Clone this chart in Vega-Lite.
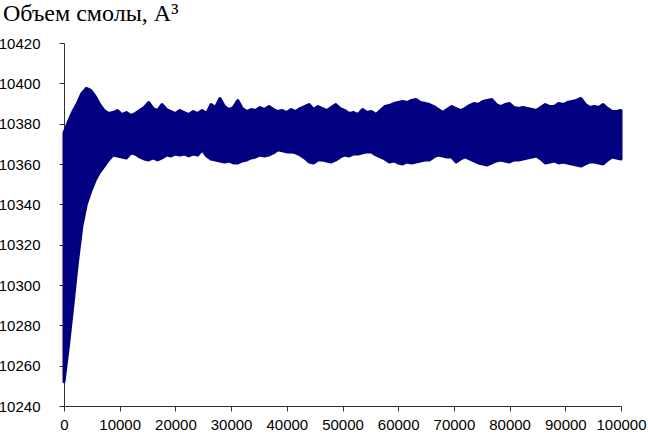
{
  "$schema": "https://vega.github.io/schema/vega-lite/v6.json",
  "autosize": "none",
  "width": 557,
  "height": 363,
  "padding": {"left": 64, "top": 43, "right": 27, "bottom": 30},
  "background": "white",
  "title": {
    "text": "Объем смолы, A³",
    "anchor": "start",
    "frame": "group",
    "font": "Liberation Serif",
    "fontSize": 24,
    "fontWeight": "normal",
    "color": "black",
    "baseline": "alphabetic",
    "offset": 14,
    "dx": -61,
    "dy": 23
  },
  "config": {
    "view": {"stroke": null},
    "axis": {
      "grid": false,
      "domainColor": "#333333",
      "tickColor": "#333333",
      "tickSize": 5,
      "labelColor": "black",
      "labelFont": "Liberation Sans",
      "title": null
    }
  },
  "data": {"values": [
    {"x":0,"lo":10252,"hi":10375.5},{"x":800,"lo":10270,"hi":10381},{"x":1600,"lo":10290,"hi":10386},{"x":2400,"lo":10311,"hi":10390},{"x":3200,"lo":10329,"hi":10395},
    {"x":4000,"lo":10340,"hi":10397.5},{"x":4800,"lo":10346.5,"hi":10396.5},{"x":5600,"lo":10352,"hi":10393.5},{"x":6400,"lo":10356,"hi":10389.5},{"x":7200,"lo":10359,"hi":10386.5},
    {"x":8000,"lo":10362,"hi":10385},{"x":8800,"lo":10364.5,"hi":10385.5},{"x":9600,"lo":10364,"hi":10386.5},{"x":10400,"lo":10363.5,"hi":10384.5},{"x":11200,"lo":10363,"hi":10385.5},
    {"x":12000,"lo":10365.5,"hi":10384},{"x":12800,"lo":10365,"hi":10385},{"x":13600,"lo":10363.5,"hi":10386.5},{"x":14400,"lo":10362.5,"hi":10388},{"x":15200,"lo":10362,"hi":10390.5},
    {"x":16000,"lo":10363,"hi":10387.5},{"x":16800,"lo":10362,"hi":10386.5},{"x":17600,"lo":10363,"hi":10389.5},{"x":18400,"lo":10364.5,"hi":10387},{"x":19200,"lo":10364,"hi":10386},
    {"x":20000,"lo":10365,"hi":10385},{"x":20800,"lo":10364.5,"hi":10386.5},{"x":21600,"lo":10365,"hi":10385.5},{"x":22400,"lo":10364,"hi":10384.5},{"x":23200,"lo":10365,"hi":10386},
    {"x":24000,"lo":10364.5,"hi":10385},{"x":24800,"lo":10367,"hi":10386.5},{"x":25600,"lo":10364,"hi":10385},{"x":26400,"lo":10362.5,"hi":10389.5},{"x":27200,"lo":10362,"hi":10388},
    {"x":28000,"lo":10361.5,"hi":10392.5},{"x":28800,"lo":10361,"hi":10388.5},{"x":29600,"lo":10361.5,"hi":10387},{"x":30400,"lo":10360.5,"hi":10388},{"x":31200,"lo":10360.5,"hi":10391.5},
    {"x":32000,"lo":10361.5,"hi":10387.5},{"x":32800,"lo":10362,"hi":10386},{"x":33600,"lo":10363,"hi":10387},{"x":34400,"lo":10363.5,"hi":10386.5},{"x":35200,"lo":10364.5,"hi":10388},
    {"x":36000,"lo":10364,"hi":10387},{"x":36800,"lo":10364.5,"hi":10388.5},{"x":37600,"lo":10365.5,"hi":10387},{"x":38400,"lo":10367,"hi":10386},{"x":39200,"lo":10366.5,"hi":10386.5},
    {"x":40000,"lo":10366,"hi":10385.5},{"x":40800,"lo":10366,"hi":10387},{"x":41600,"lo":10365.5,"hi":10386},{"x":42400,"lo":10364.5,"hi":10387.5},{"x":43200,"lo":10363,"hi":10388.5},
    {"x":44000,"lo":10361,"hi":10389.5},{"x":44800,"lo":10360.5,"hi":10387},{"x":45600,"lo":10362,"hi":10388.5},{"x":46400,"lo":10362,"hi":10387.5},{"x":47200,"lo":10361.5,"hi":10386.5},
    {"x":48000,"lo":10361,"hi":10388},{"x":48800,"lo":10362,"hi":10389.5},{"x":49600,"lo":10363.5,"hi":10387.5},{"x":50400,"lo":10364.5,"hi":10386.5},{"x":51200,"lo":10364,"hi":10385},
    {"x":52000,"lo":10365,"hi":10385.5},{"x":52800,"lo":10365,"hi":10384.5},{"x":53600,"lo":10365.5,"hi":10387},{"x":54400,"lo":10366,"hi":10385.5},{"x":55200,"lo":10366,"hi":10386},
    {"x":56000,"lo":10364.5,"hi":10384.5},{"x":56800,"lo":10363.5,"hi":10386.5},{"x":57600,"lo":10362.5,"hi":10388.5},{"x":58400,"lo":10361,"hi":10389},{"x":59200,"lo":10361.5,"hi":10390},
    {"x":60000,"lo":10360.5,"hi":10390.5},{"x":60800,"lo":10360,"hi":10391},{"x":61600,"lo":10361,"hi":10390.5},{"x":62400,"lo":10360.5,"hi":10391.5},{"x":63200,"lo":10361,"hi":10392},
    {"x":64000,"lo":10361.5,"hi":10390.5},{"x":64800,"lo":10362,"hi":10390},{"x":65600,"lo":10362,"hi":10389.5},{"x":66400,"lo":10363.5,"hi":10388.5},{"x":67200,"lo":10364.5,"hi":10387},
    {"x":68000,"lo":10364,"hi":10385.5},{"x":68800,"lo":10363.5,"hi":10387},{"x":69600,"lo":10363.5,"hi":10388.5},{"x":70400,"lo":10361,"hi":10387.5},{"x":71200,"lo":10362.5,"hi":10386.5},
    {"x":72000,"lo":10363.5,"hi":10387.5},{"x":72800,"lo":10362.5,"hi":10389},{"x":73600,"lo":10361.5,"hi":10390},{"x":74400,"lo":10360.5,"hi":10389.5},{"x":75200,"lo":10360,"hi":10391},
    {"x":76000,"lo":10359.5,"hi":10391.5},{"x":76800,"lo":10360.5,"hi":10392},{"x":77600,"lo":10361.5,"hi":10389.5},{"x":78400,"lo":10362,"hi":10388.5},{"x":79200,"lo":10361.5,"hi":10389.5},
    {"x":80000,"lo":10361,"hi":10390},{"x":80800,"lo":10362,"hi":10388},{"x":81600,"lo":10362,"hi":10387.5},{"x":82400,"lo":10362.5,"hi":10388},{"x":83200,"lo":10363,"hi":10387.5},
    {"x":84000,"lo":10363.5,"hi":10387},{"x":84800,"lo":10364,"hi":10386.5},{"x":85600,"lo":10362.5,"hi":10388},{"x":86400,"lo":10360.5,"hi":10389.5},{"x":87200,"lo":10361,"hi":10388.5},
    {"x":88000,"lo":10361.5,"hi":10388.5},{"x":88800,"lo":10360.5,"hi":10390},{"x":89600,"lo":10361,"hi":10389.5},{"x":90400,"lo":10360.5,"hi":10390.5},{"x":91200,"lo":10360,"hi":10391},
    {"x":92000,"lo":10359.5,"hi":10391.5},{"x":92800,"lo":10359,"hi":10392.5},{"x":93600,"lo":10360,"hi":10389.5},{"x":94400,"lo":10361,"hi":10388},{"x":95200,"lo":10361,"hi":10388.5},
    {"x":96000,"lo":10360.5,"hi":10388},{"x":96800,"lo":10360,"hi":10389.5},{"x":97600,"lo":10362,"hi":10387.5},{"x":98400,"lo":10363.5,"hi":10386},{"x":99200,"lo":10363,"hi":10386},
    {"x":100000,"lo":10362.5,"hi":10386.5}
  ]},
  "mark": {"type": "area", "color": "#000080", "stroke": "#000080", "strokeWidth": 3, "strokeJoin": "round", "strokeCap": "round", "clip": false},
  "encoding": {
    "x": {
      "field": "x", "type": "quantitative",
      "scale": {"domain": [0, 100000], "nice": false, "zero": false},
      "axis": {"values": [0,10000,20000,30000,40000,50000,60000,70000,80000,90000,100000], "format": "d", "labelFontSize": 15, "labelPadding": 6, "labelFlush": false}
    },
    "y": {
      "field": "lo", "type": "quantitative",
      "scale": {"domain": [10240, 10420], "nice": false, "zero": false},
      "axis": {"values": [10240,10260,10280,10300,10320,10340,10360,10380,10400,10420], "format": "d", "labelFontSize": 15, "labelPadding": 19}
    },
    "y2": {"field": "hi"}
  }
}
